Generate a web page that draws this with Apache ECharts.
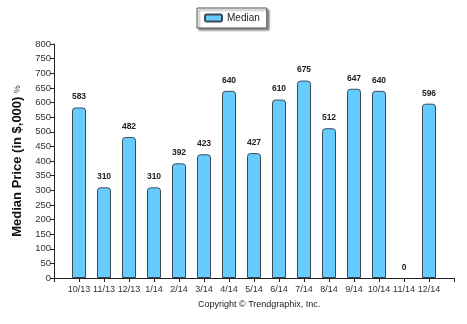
<!DOCTYPE html>
<html>
<head>
<meta charset="utf-8">
<script src="https://cdn.jsdelivr.net/npm/echarts@6/dist/echarts.min.js"></script>
<style>html,body{margin:0;padding:0;background:#fff}#c{width:467px;height:324px}</style>
</head>
<body>
<div id="c"></div>
<script>
var categories = ['10/13','11/13','12/13','1/14','2/14','3/14','4/14','5/14','6/14','7/14','8/14','9/14','10/14','11/14','12/14'];
var medianValues = [583,310,482,310,392,423,640,427,610,675,512,647,640,0,596];
var yTicks = [0,50,100,150,200,250,300,350,400,450,500,550,600,650,700,750,800];

var chart = echarts.init(document.getElementById('c'), null, {renderer:'canvas'});
var axisCats = [''].concat(categories).concat(['']);
var seriesData = ['-'].concat(medianValues.map(function(v){
  return v === 0 ? {value:v, itemStyle:{borderWidth:0, color:'rgba(0,0,0,0)'}} : v;
})).concat(['-']);
var font = 'Liberation Sans';
chart.setOption({
  animation:false,
  backgroundColor:'#fff',
  grid:{left:54,right:13,top:44,bottom:46},
  legend:{
    data:['Median'], left:197, top:8, padding:[5,7,5,7],
    backgroundColor:'#fff', borderColor:'#555', borderWidth:1,
    shadowColor:'rgba(0,0,0,0.45)', shadowOffsetX:2, shadowOffsetY:2, shadowBlur:2,
    itemWidth:17, itemHeight:7, itemGap:4,
    textStyle:{fontFamily:font,fontSize:10,color:'#222'}
  },
  xAxis:{
    type:'category', data:axisCats, boundaryGap:false,
    axisLine:{lineStyle:{color:'#222',width:1}},
    axisTick:{show:true,interval:0,length:4,lineStyle:{color:'#222'}},
    axisLabel:{interval:0,fontFamily:font,fontSize:9,color:'#333',margin:7},
    splitLine:{show:false}
  },
  yAxis:{
    type:'value', min:0, max:800, interval:50,
    name:'{b|Median Price (in $,000)} {s|%}', nameLocation:'middle', nameGap:30, nameRotate:90,
    nameTextStyle:{rich:{b:{fontFamily:font,fontWeight:'bold',fontSize:13,color:'#111'},s:{fontFamily:font,fontSize:9,color:'#333'}}},
    axisLine:{show:true,lineStyle:{color:'#222',width:1}},
    axisTick:{show:true,length:4,lineStyle:{color:'#222'}},
    axisLabel:{fontFamily:font,fontSize:9.5,color:'#333',margin:3},
    splitLine:{show:false}
  },
  series:[{
    name:'Median', type:'bar', data:seriesData, barWidth:14,
    itemStyle:{color:'#66CCFF',borderColor:'#3a4a55',borderWidth:1,borderRadius:[3,3,0,0]},
    label:{show:true,position:'top',distance:6,fontFamily:font,fontWeight:'bold',fontSize:8.5,color:'#222'}
  }],
  graphic:[{type:'text',left:198,top:300,style:{text:'Copyright \u00A9 Trendgraphix, Inc.',font:'9px "Liberation Sans"',fill:'#222'}}]
});
</script>
</body>
</html>
